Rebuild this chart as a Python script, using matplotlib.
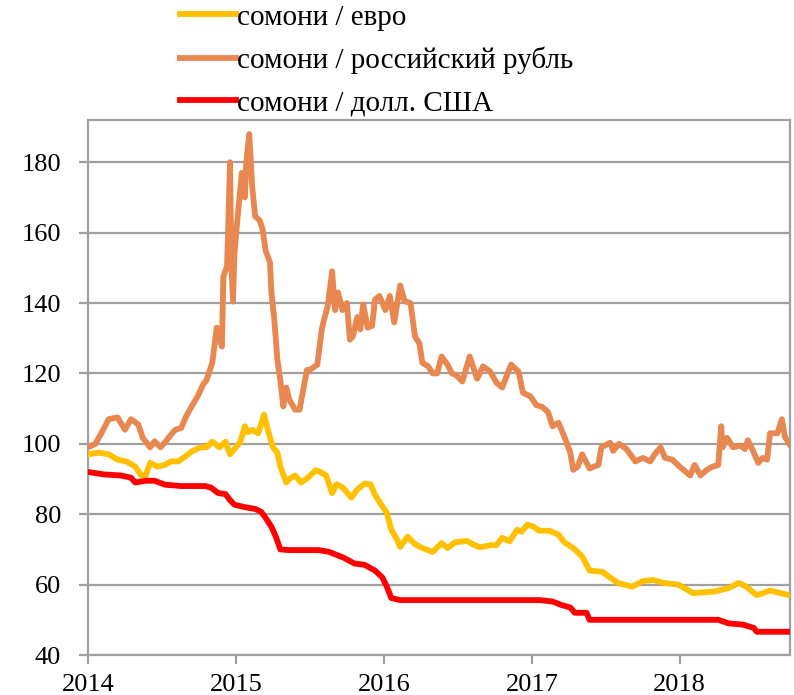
import matplotlib
matplotlib.use('Agg')
import matplotlib.pyplot as plt
import numpy as np

# exchange rate indices (decimal year, value)
rub_year = [2014.00, 2014.05, 2014.09, 2014.14, 2014.20, 2014.25, 2014.29, 2014.34, 2014.37, 2014.42,
            2014.45, 2014.49, 2014.52, 2014.55, 2014.59, 2014.63, 2014.66, 2014.70, 2014.74, 2014.78,
            2014.80, 2014.84, 2014.87, 2014.905, 2014.915, 2014.94, 2014.96, 2014.97, 2014.98, 2014.99,
            2015.01, 2015.04, 2015.06, 2015.07, 2015.09, 2015.11, 2015.13, 2015.16, 2015.18, 2015.20,
            2015.23, 2015.24, 2015.26, 2015.28, 2015.30, 2015.32, 2015.34, 2015.36, 2015.40, 2015.43,
            2015.48, 2015.50, 2015.55, 2015.58, 2015.60, 2015.62, 2015.65, 2015.67, 2015.69, 2015.72,
            2015.75, 2015.77, 2015.79, 2015.82, 2015.84, 2015.86, 2015.89, 2015.92, 2015.94, 2015.97,
            2016.01, 2016.04, 2016.07, 2016.11, 2016.14, 2016.18, 2016.21, 2016.24, 2016.26, 2016.30,
            2016.33, 2016.36, 2016.39, 2016.43, 2016.46, 2016.49, 2016.53, 2016.58, 2016.63, 2016.67,
            2016.72, 2016.76, 2016.80, 2016.83, 2016.86, 2016.91, 2016.94, 2016.99, 2017.03, 2017.07,
            2017.11, 2017.14, 2017.18, 2017.22, 2017.26, 2017.28, 2017.31, 2017.34, 2017.39, 2017.45,
            2017.47, 2017.53, 2017.55, 2017.59, 2017.64, 2017.70, 2017.75, 2017.80, 2017.83, 2017.87,
            2017.90, 2017.95, 2018.00, 2018.07, 2018.10, 2018.14, 2018.18, 2018.22, 2018.26, 2018.28,
            2018.29, 2018.32, 2018.36, 2018.41, 2018.44, 2018.46, 2018.49, 2018.53, 2018.56, 2018.59,
            2018.61, 2018.66, 2018.69, 2018.71, 2018.74]
rub_val = [99, 100, 103, 107, 107.5, 104, 107, 105.5, 101.7, 99,
           100.7, 99, 100.4, 102, 104, 104.5, 107.5, 110.6, 113.4, 117,
           118, 123, 133, 127.6, 147.6, 150.4, 180, 150, 140.4, 154,
           163.8, 177, 170, 180, 188, 173, 164.6, 163.5, 161, 155,
           151.5, 143, 135, 124, 118, 110.6, 116, 112.6, 109.7, 109.7,
           121, 121, 122.5, 132.5, 136, 139, 149, 138, 143, 138,
           140, 129.6, 130.5, 136, 132.5, 139.6, 133, 133.5, 141, 142,
           138, 142, 134.5, 145, 140.5, 140, 130.5, 128.5, 123, 122,
           120, 120, 124.8, 122.5, 120, 119.5, 117.7, 124.8, 118.5, 122,
           120.5, 117.4, 116, 119.3, 122.5, 120.5, 114.5, 113.5, 111, 110.5,
           109, 105, 106, 102, 97.5, 92.6, 93.5, 97, 93, 94,
           99, 100.3, 98, 100, 98.5, 95, 96, 95, 97, 99,
           96, 95.5, 93.5, 91, 94, 91, 92.5, 93.5, 94, 105,
           99, 101.7, 99, 99.5, 98.5, 101, 98.5, 94.6, 96, 95.5,
           103, 103, 107, 102, 100]

eur_year = [2014.00, 2014.07, 2014.14, 2014.20, 2014.26, 2014.32, 2014.36, 2014.39, 2014.42, 2014.47,
            2014.52, 2014.56, 2014.61, 2014.66, 2014.70, 2014.76, 2014.80, 2014.84, 2014.89, 2014.93,
            2014.96, 2014.99, 2015.03, 2015.06, 2015.08, 2015.11, 2015.15, 2015.17, 2015.19, 2015.22,
            2015.25, 2015.28, 2015.30, 2015.34, 2015.36, 2015.40, 2015.44, 2015.49, 2015.54, 2015.57,
            2015.61, 2015.65, 2015.68, 2015.72, 2015.78, 2015.82, 2015.87, 2015.91, 2015.94, 2015.97,
            2016.02, 2016.05, 2016.09, 2016.11, 2016.16, 2016.21, 2016.26, 2016.33, 2016.39, 2016.43,
            2016.48, 2016.56, 2016.60, 2016.65, 2016.72, 2016.76, 2016.80, 2016.85, 2016.90, 2016.93,
            2016.97, 2017.01, 2017.05, 2017.12, 2017.18, 2017.22, 2017.28, 2017.34, 2017.39, 2017.48,
            2017.51, 2017.58, 2017.68, 2017.75, 2017.82, 2017.89, 2017.99, 2018.09, 2018.23, 2018.33,
            2018.40, 2018.45, 2018.52, 2018.61, 2018.68, 2018.74]
eur_val = [97, 97.5, 97, 95.5, 95, 93.5, 91, 91, 94.6, 93.5,
           94, 95, 95, 96.5, 97.8, 99, 99, 100.6, 99, 100.6,
           97, 98.5, 100.6, 105, 103.3, 104, 103, 105.5, 108.3, 103.3,
           99, 97.5, 93.5, 89, 90, 91, 89, 90.5, 92.5, 92,
           91, 86, 88.5, 87.7, 84.7, 87, 88.7, 88.5, 85.5, 83.5,
           80.4, 75.6, 72.7, 70.7, 73.6, 71.5, 70.4, 69.3, 71.8, 70.4,
           72, 72.4, 71.5, 70.6, 71.2, 71.2, 73.3, 72.3, 75.6, 75,
           77, 76.5, 75.3, 75.3, 74.2, 72, 70.4, 68, 64, 63.6,
           62.6, 60.5, 59.4, 61, 61.3, 60.5, 60, 57.6, 58, 59,
           60.5, 59.4, 57, 58.3, 57.6, 57]

usd_year = [2014.00, 2014.11, 2014.22, 2014.29, 2014.32, 2014.39, 2014.45, 2014.52, 2014.63, 2014.79,
            2014.83, 2014.88, 2014.93, 2014.96, 2014.99, 2015.06, 2015.13, 2015.17, 2015.20, 2015.24,
            2015.27, 2015.30, 2015.36, 2015.56, 2015.63, 2015.73, 2015.80, 2015.87, 2015.94, 2015.99,
            2016.02, 2016.05, 2016.11, 2017.05, 2017.14, 2017.20, 2017.26, 2017.29, 2017.37, 2017.39,
            2018.26, 2018.33, 2018.43, 2018.50, 2018.52, 2018.74]
usd_val = [92, 91.3, 91, 90.4, 89, 89.5, 89.5, 88.4, 88, 88,
           87.6, 86, 85.7, 84, 82.7, 82, 81.5, 80.7, 79, 76.4,
           73.6, 70, 69.8, 69.8, 69.3, 67.6, 66, 65.6, 64, 62,
           59.4, 56.2, 55.6, 55.6, 55.2, 54.2, 53.5, 52, 52, 50,
           50, 49, 48.6, 47.7, 46.6, 46.6]

series_labels = ['сомони / евро', 'сомони / российский рубль', 'сомони / долл. США']
year_ticks = [2014, 2015, 2016, 2017, 2018]
value_ticks = [40, 60, 80, 100, 120, 140, 160, 180]

plt.rcParams['font.family'] = ['Liberation Serif', 'DejaVu Serif']
plt.rcParams['font.size'] = 19

grey = '#A0A0A0'
fig = plt.figure(figsize=(7.94, 6.95), dpi=100)
ax = fig.add_axes([88 / 794, 40 / 695, 702 / 794, 535 / 695])

ax.plot(eur_year, eur_val, color='#FFC000', linewidth=4.2, label=series_labels[0], zorder=3)
ax.plot(rub_year, rub_val, color='#E8874F', linewidth=4.2, label=series_labels[1], zorder=3)
ax.plot(usd_year, usd_val, color='#FF0000', linewidth=4.2, label=series_labels[2], zorder=3)

ax.set_xlim(2014, 2018.745)
ax.set_ylim(40, 192)
ax.set_xticks(year_ticks)
ax.set_yticks(value_ticks)
ax.yaxis.grid(True, color=grey, linewidth=1.6)
ax.set_axisbelow(True)
for side in ['left', 'right', 'top', 'bottom']:
    ax.spines[side].set_color(grey)
    ax.spines[side].set_linewidth(1.6)
ax.tick_params(axis='both', color=grey, width=1.6, length=6.5, direction='out')
ax.tick_params(axis='y', pad=13)
ax.tick_params(axis='x', pad=7)

fig.legend(loc='upper left', bbox_to_anchor=(180 / 794, 0.994), frameon=False,
           handlelength=1.92, handletextpad=0.05, labelspacing=0.55, borderpad=0,
           borderaxespad=0, fontsize=21)

fig.savefig('out.png', dpi=100)
